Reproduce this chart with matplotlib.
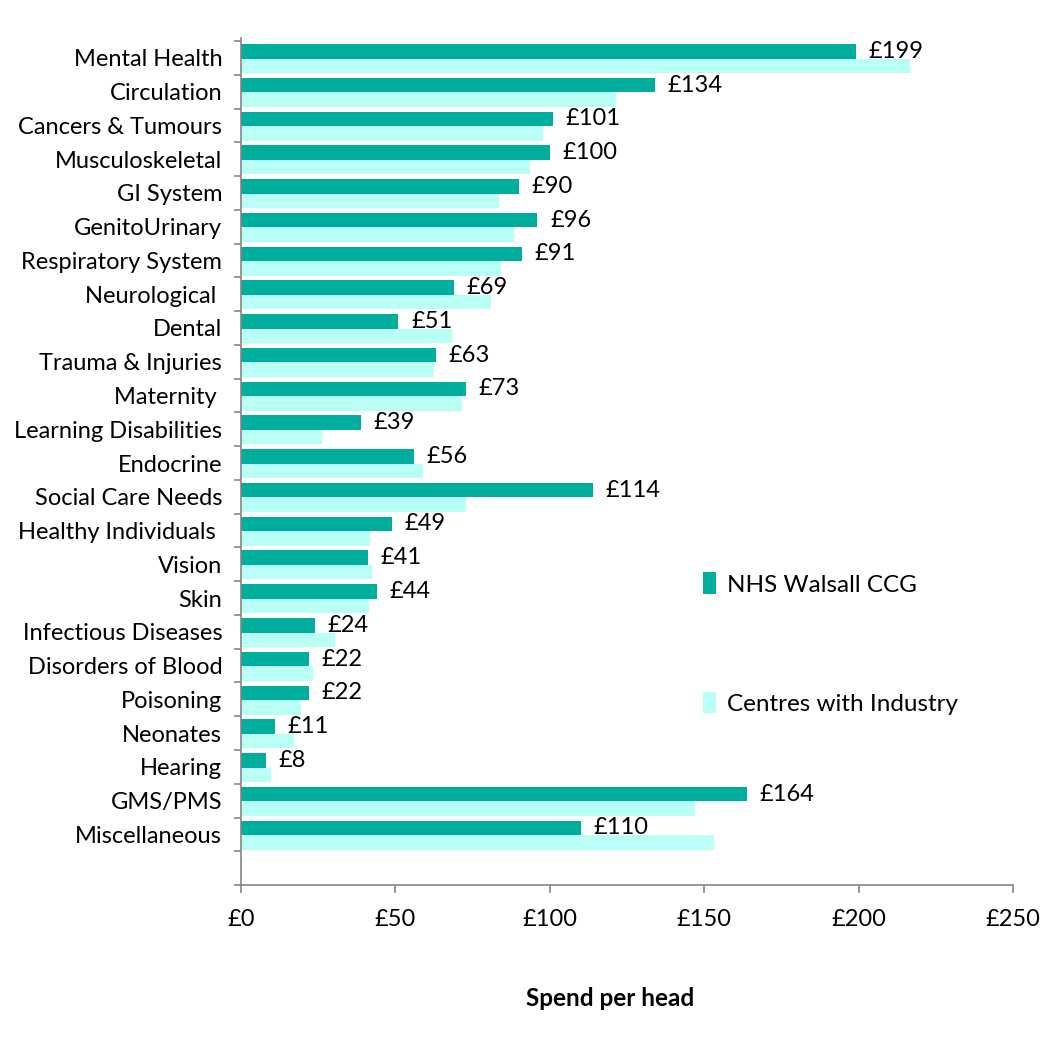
import numpy as np
import matplotlib
matplotlib.use('Agg')
import matplotlib.pyplot as plt
from matplotlib.ticker import FixedLocator, FuncFormatter

plt.rcParams['font.family'] = ['Lato', 'DejaVu Sans']

categories = ['Mental Health', 'Circulation', 'Cancers & Tumours', 'Musculoskeletal',
              'GI System', 'GenitoUrinary', 'Respiratory System', 'Neurological ',
              'Dental', 'Trauma & Injuries', 'Maternity ', 'Learning Disabilities',
              'Endocrine', 'Social Care Needs', 'Healthy Individuals ', 'Vision',
              'Skin', 'Infectious Diseases', 'Disorders of Blood', 'Poisoning',
              'Neonates', 'Hearing', 'GMS/PMS', 'Miscellaneous']
walsall = [199, 134, 101, 100, 90, 96, 91, 69, 51, 63, 73, 39, 56, 114, 49, 41,
           44, 24, 22, 22, 11, 8, 164, 110]
centres = [216.5, 121.6, 97.8, 93.5, 83.6, 88.3, 84.2, 81.0, 68.2, 62.6, 71.7, 26.1,
           59.0, 72.8, 41.9, 42.5, 41.5, 30.5, 23.3, 19.4, 17.1, 9.7, 147.0, 153.1]
xticks = [0, 50, 100, 150, 200, 250]

dark = '#00AE9D'
light = '#BAFFF5'
grey = '#868686'
fs = 17

fig = plt.figure(figsize=(10.41, 10.40), dpi=100)
ax = fig.add_axes([0.2315, 0.149, 0.7416, 0.8145])

y = np.arange(len(categories))
h = 0.43
b1 = ax.barh(y - h / 2 + 0.02, walsall, height=h, color=dark, label='NHS Walsall CCG')
b2 = ax.barh(y + h / 2 + 0.02, centres, height=h, color=light, label='Centres with Industry')
ax.bar_label(b1, labels=['£%d' % v for v in walsall], padding=9, fontsize=fs)

ax.set_xlim(0, 250)
ax.set_ylim(24.5, -0.59)

ax.set_yticks(y)
ax.set_yticklabels(categories, fontsize=fs)
ax.yaxis.set_minor_locator(FixedLocator(np.arange(-0.5, 25, 1.0)))
ax.tick_params(axis='y', which='major', length=0, pad=13.5)
ax.tick_params(axis='y', which='minor', length=5, width=1.2, color=grey, direction='out')

ax.set_xticks(xticks)
ax.xaxis.set_major_formatter(FuncFormatter(lambda v, p: '£%d' % v))
ax.tick_params(axis='x', length=6, width=1.2, color=grey, pad=11, labelsize=fs)

for s in ['top', 'right']:
    ax.spines[s].set_visible(False)
for s in ['left', 'bottom']:
    ax.spines[s].set_color(grey)
    ax.spines[s].set_linewidth(1.2)

ax.set_xlabel('Spend per head', fontsize=17.5, fontweight='bold')
ax.xaxis.set_label_coords(0.478, -0.12)

ax.legend(loc='upper left', bbox_to_anchor=(0.598, 0.369), frameon=False, fontsize=17.5,
          handlelength=0.55, handleheight=1.0, handletextpad=0.45, labelspacing=3.95,
          borderpad=0, borderaxespad=0)

fig.savefig('out.png', dpi=100)
